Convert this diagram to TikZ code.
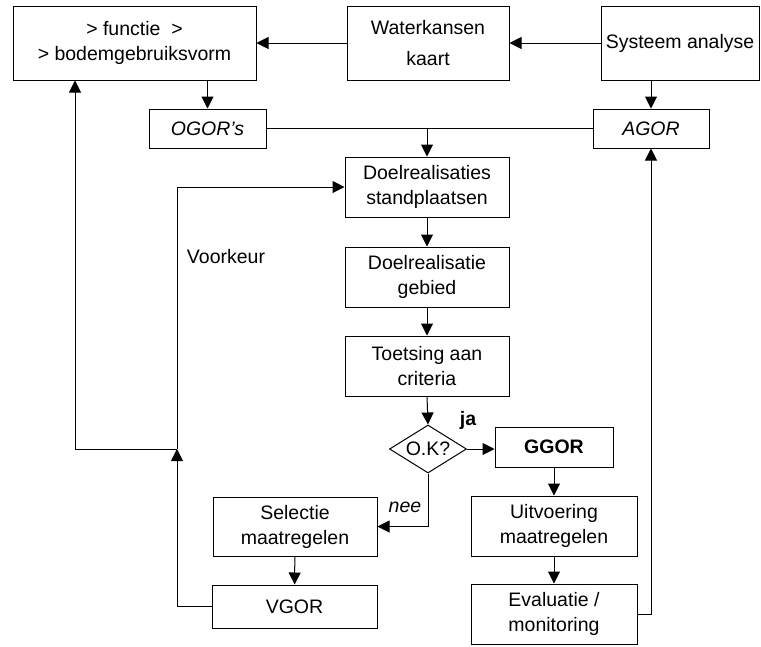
\documentclass[tikz,border=0pt]{standalone}
\usepackage{fontspec}
\setmainfont{Liberation Sans}
\usetikzlibrary{arrows.meta,shapes.geometric,calc}

\tikzset{
  blok/.style={draw, line width=1pt, align=center, inner sep=0pt, font=\fontsize{19.5}{25}\selectfont},
  keuze/.style={draw, line width=1pt, diamond, aspect=1.6, inner sep=0pt, font=\fontsize{19.5}{25}\selectfont},
  pijl/.style={line width=1pt, -{Triangle[length=12pt,width=12pt]}},
  lijn/.style={line width=1pt},
  label/.style={inner sep=0pt, font=\fontsize{19.5}{25}\selectfont}
}

\begin{document}
\begin{tikzpicture}[x=1pt,y=1pt,yscale=-1,xscale=1]
\useasboundingbox (0,0) rectangle (761,646);

% Boxes
\node[blok, minimum width=243, minimum height=74] (bodem) at (134.5,43) {> functie~~>\\> bodemgebruiksvorm};
\node[blok, minimum width=162, minimum height=74] (water) at (428,43) {Waterkansen\\[6pt]kaart};
\node[blok, minimum width=158, minimum height=74] (systeem) at (680,43) {Systeem analyse};
\node[blok, minimum width=117, minimum height=39] (ogor) at (207.5,128.5) {\itshape OGOR's};
\node[blok, minimum width=116, minimum height=39] (agor) at (651,128.5) {\itshape AGOR};
\node[blok, minimum width=164, minimum height=60] (doel1) at (427,187) {Doelrealisaties\\standplaatsen};
\node[blok, minimum width=164, minimum height=60] (doel2) at (427,277) {Doelrealisatie\\gebied};
\node[blok, minimum width=164, minimum height=60] (toets) at (427,366) {Toetsing aan\\criteria};
\node[keuze, minimum width=77, minimum height=48] (ok) at (428,449) {O.K?};
\node[blok, minimum width=118, minimum height=40] (ggor) at (554,447) {\bfseries GGOR};
\node[blok, minimum width=166, minimum height=60] (uitv) at (554,526) {Uitvoering\\maatregelen};
\node[blok, minimum width=166, minimum height=60] (eval) at (554,614) {Evaluatie /\\monitoring};
\node[blok, minimum width=164, minimum height=59] (selectie) at (295,526.5) {Selectie\\maatregelen};
\node[blok, minimum width=165, minimum height=43] (vgor) at (294.5,606.5) {VGOR};

% Text Node
\node[label] (voorkeur) at (226,257) {Voorkeur};
\node[label, font=\fontsize{19.5}{25}\selectfont\bfseries] (ja) at (468,420) {ja};
\node[label, font=\fontsize{19.5}{25}\selectfont\itshape] (nee) at (405,507) {nee};

% Junctions
\coordinate (samen) at (ogor.east -| doel1.north);
\coordinate (knoop) at (177,449);
\coordinate (terug) at (75,449);

% Connectors
\draw[pijl] (systeem.west) -- (water.east);
\draw[pijl] (water.west) -- (bodem.east);
\draw[pijl] (bodem.south -| ogor.north) -- (ogor.north);
\draw[pijl] (systeem.south -| agor.north) -- (agor.north);
\draw[lijn] (ogor.east) -- (samen);
\draw[lijn] (agor.west) -- (samen);
\draw[pijl] (samen) -- (doel1.north);
\draw[pijl] (doel1) -- (doel2);
\draw[pijl] (doel2) -- (toets);
\draw[pijl] (toets.south) -- (ok.north);
\draw[pijl] (ok.east) -- (ok.east -| ggor.west);
\draw[pijl] (ok.south) |- (selectie.east);
\draw[pijl] (selectie) -- (vgor);
\draw[pijl] (vgor.west) -| (knoop);
\draw[pijl] (knoop) |- (doel1.west);
\draw[pijl] (knoop) -- (terug) -- (terug |- bodem.south);
\draw[pijl] (ggor.south -| uitv.north) -- (uitv.north);
\draw[pijl] (uitv) -- (eval);
\draw[pijl] (eval.east) -| (agor.south);
\end{tikzpicture}
\end{document}
